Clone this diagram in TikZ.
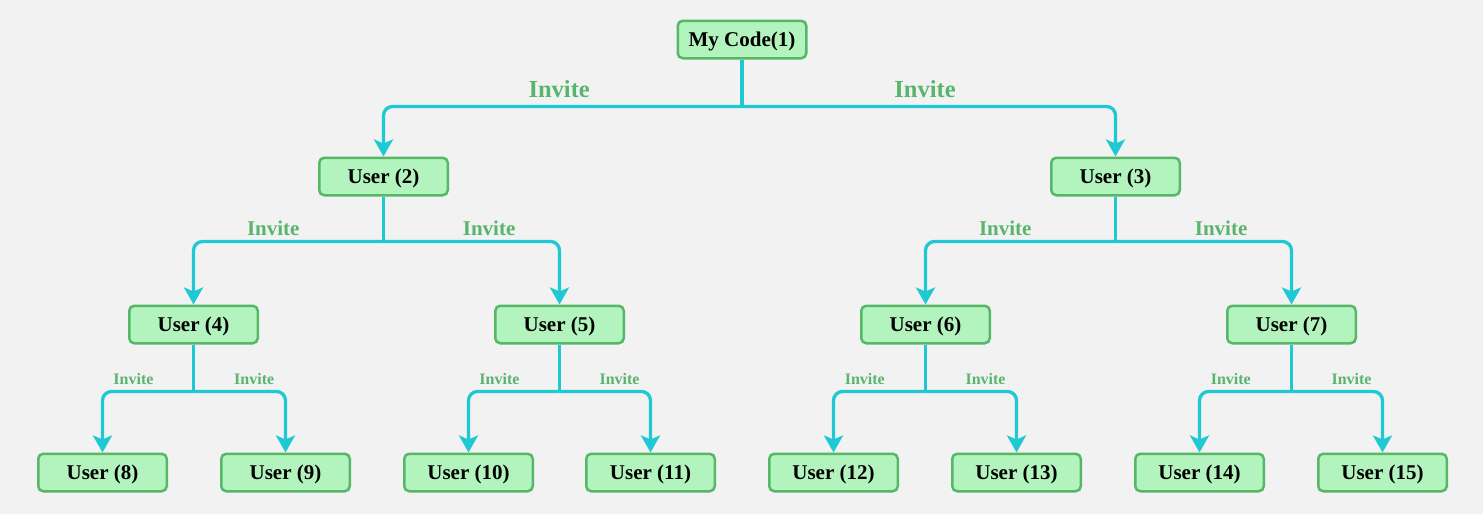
\documentclass[tikz,border=0pt]{standalone}
\usepackage{fontspec}
\setmainfont{Liberation Serif}
\usetikzlibrary{arrows.meta}
\definecolor{bggrey}{HTML}{F2F2F2}
\definecolor{boxfill}{HTML}{B3F3BE}
\definecolor{boxedge}{HTML}{55B868}
\definecolor{linkcyan}{HTML}{1FC9D3}
\definecolor{invgreen}{HTML}{5AB56C}

\begin{document}
\begin{tikzpicture}[x=1pt,y=-1pt,
  user/.style={rectangle,rounded corners=5pt,draw=boxedge,fill=boxfill,line width=2.5pt,minimum width=128.5pt,minimum height=37.5pt,inner sep=0pt,text depth=0pt,font=\fontsize{21}{24}\selectfont\bfseries},
  link/.style={draw=linkcyan,line width=3.3pt,rounded corners=9pt},
  arrow/.style={link,-{Stealth[length=17pt,width=19pt,inset=4pt]}},
  inv/.style={text=invgreen,above,inner xsep=0pt},
  invA/.style={inv,font=\fontsize{24.5}{26}\selectfont\bfseries,inner ysep=7.5pt},
  invB/.style={inv,font=\fontsize{21}{24}\selectfont\bfseries,inner ysep=4.5pt},
  invC/.style={inv,font=\fontsize{16}{18}\selectfont\bfseries,inner ysep=5.5pt}]
\fill[bggrey] (0,0) rectangle (1483,514);
\useasboundingbox (0,0) rectangle (1483,514);
% nodes
\node[user] (u1) at (742,39.5) {My Code(1)};
\node[user] (u2) at (383.5,176.5) {User (2)};
\node[user] (u3) at (1115.5,176.5) {User (3)};
\node[user] (u4) at (193.5,324.5) {User (4)};
\node[user] (u5) at (559.5,324.5) {User (5)};
\node[user] (u6) at (925.5,324.5) {User (6)};
\node[user] (u7) at (1291.5,324.5) {User (7)};
\node[user] (u8) at (102.5,472.5) {User (8)};
\node[user] (u9) at (285.5,472.5) {User (9)};
\node[user] (u10) at (468.5,472.5) {User (10)};
\node[user] (u11) at (650.5,472.5) {User (11)};
\node[user] (u12) at (833.5,472.5) {User (12)};
\node[user] (u13) at (1016.5,472.5) {User (13)};
\node[user] (u14) at (1199.5,472.5) {User (14)};
\node[user] (u15) at (1382.5,472.5) {User (15)};
% trunks
\draw[link] (u1.south) -- ++(0,47) coordinate (j1);
\draw[link] (u2.south) -- ++(0,45) coordinate (j2);
\draw[link] (u3.south) -- ++(0,45) coordinate (j3);
\draw[link] (u4.south) -- ++(0,47) coordinate (j4);
\draw[link] (u5.south) -- ++(0,47) coordinate (j5);
\draw[link] (u6.south) -- ++(0,47) coordinate (j6);
\draw[link] (u7.south) -- ++(0,47) coordinate (j7);
% branches
\draw[arrow] (j1) -| node[invA,pos=0.255]{Invite} (u2.north);
\draw[arrow] (j1) -| node[invA,pos=0.245]{Invite} (u3.north);
\draw[arrow] (j2) -| node[invB,pos=0.29]{Invite} (u4.north);
\draw[arrow] (j2) -| node[invB,pos=0.3]{Invite} (u5.north);
\draw[arrow] (j3) -| node[invB,pos=0.29]{Invite} (u6.north);
\draw[arrow] (j3) -| node[invB,pos=0.3]{Invite} (u7.north);
\draw[arrow] (j4) -| node[invC,pos=0.33]{Invite} (u8.north);
\draw[arrow] (j4) -| node[invC,pos=0.33]{Invite} (u9.north);
\draw[arrow] (j5) -| node[invC,pos=0.33]{Invite} (u10.north);
\draw[arrow] (j5) -| node[invC,pos=0.33]{Invite} (u11.north);
\draw[arrow] (j6) -| node[invC,pos=0.33]{Invite} (u12.north);
\draw[arrow] (j6) -| node[invC,pos=0.33]{Invite} (u13.north);
\draw[arrow] (j7) -| node[invC,pos=0.33]{Invite} (u14.north);
\draw[arrow] (j7) -| node[invC,pos=0.33]{Invite} (u15.north);
\end{tikzpicture}
\end{document}
